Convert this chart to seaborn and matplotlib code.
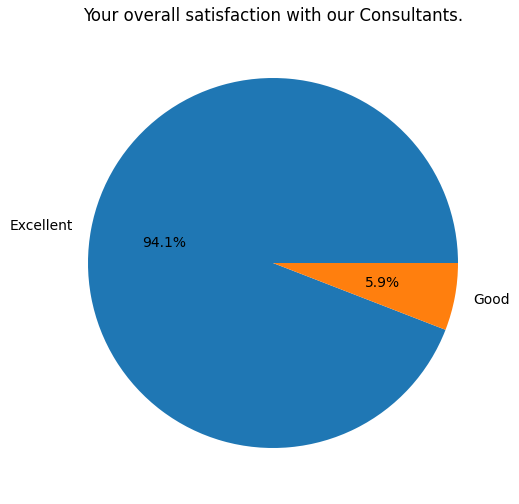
import matplotlib
matplotlib.use("Agg")
import matplotlib.pyplot as plt
import seaborn as sns

labels = ["Excellent", "Good"]
counts = [16, 1]

colors = sns.color_palette("tab10", 2)

fig = plt.figure(figsize=(5.19, 5.04), dpi=100)
W, H = 519, 504
size = 462.5
cx, cy = 273, 263
ax = fig.add_axes([(cx - size / 2) / W, (H - cy - size / 2) / H, size / W, size / H])
ax.pie(counts, labels=labels, autopct="%1.1f%%", colors=colors)
ax.set_title("Your overall satisfaction with our Consultants.", pad=8)
fig.savefig("out.png", dpi=100)
